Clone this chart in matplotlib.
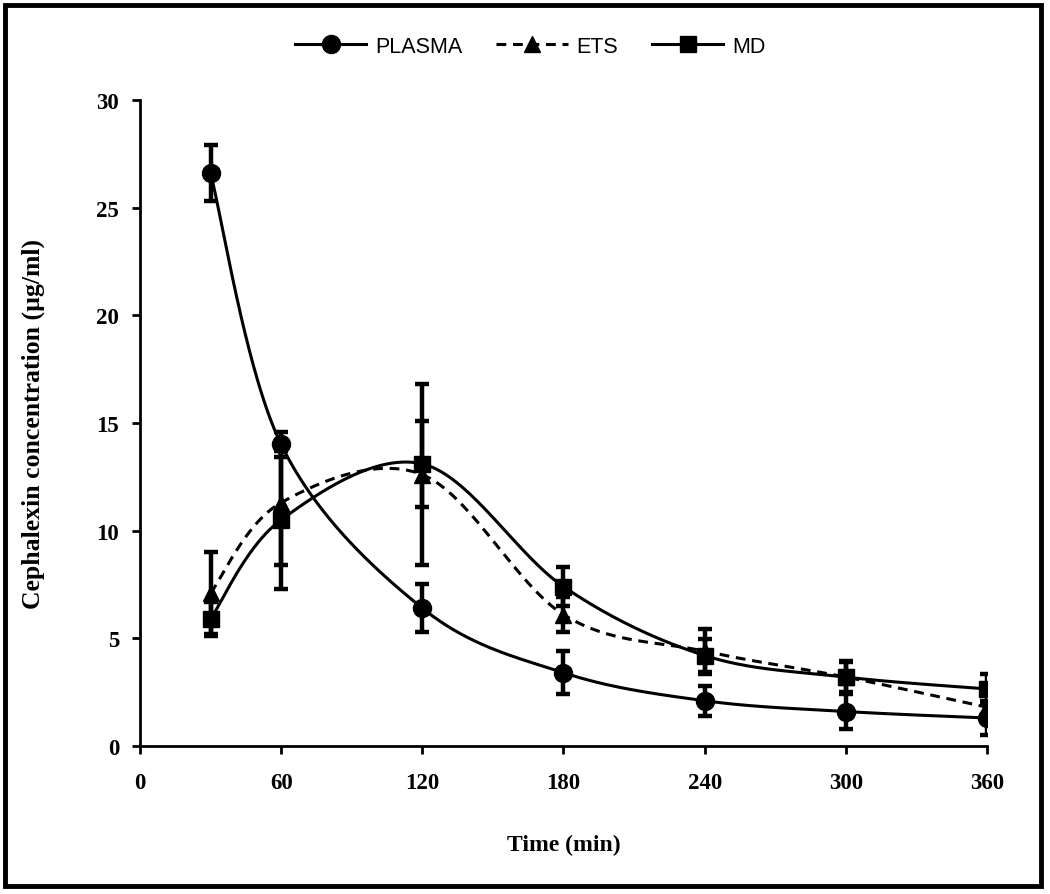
import numpy as np
import matplotlib
matplotlib.use("Agg")
import matplotlib.pyplot as plt
from matplotlib.patches import Rectangle

# ------------------------- data ------------------------- #
time = [30, 60, 120, 180, 240, 300, 360]

plasma = [26.6, 14.0, 6.4, 3.4, 2.1, 1.6, 1.3]
plasma_err = [1.3, 0.6, 1.1, 1.0, 0.7, 0.8, 0.8]

ets = [7.1, 11.3, 12.6, 6.1, 4.4, 3.2, 1.8]
ets_err = [1.9, 2.9, 4.2, 0.8, 1.05, 0.7, 0.6]

md = [5.9, 10.5, 13.1, 7.4, 4.2, 3.2, 2.65]
md_err = [0.8, 3.2, 2.0, 0.9, 0.75, 0.75, 0.7]

x_ticks = [0, 60, 120, 180, 240, 300, 360]
y_ticks = [0, 5, 10, 15, 20, 25, 30]


# Excel style smoothed line: cubic bezier with catmull-rom control points
def smooth(x, y, n=60):
    x = np.asarray(x, float)
    y = np.asarray(y, float)
    px = np.concatenate([[x[0]], x, [x[-1]]])
    py = np.concatenate([[y[0]], y, [y[-1]]])
    xs, ys = [], []
    s = np.linspace(0, 1, n)
    for i in range(len(x) - 1):
        p0 = np.array([px[i + 1], py[i + 1]])
        p3 = np.array([px[i + 2], py[i + 2]])
        c1 = p0 + (np.array([px[i + 2], py[i + 2]]) - np.array([px[i], py[i]])) / 6
        c2 = p3 - (np.array([px[i + 3], py[i + 3]]) - np.array([px[i + 1], py[i + 1]])) / 6
        b = ((1 - s) ** 3)[:, None] * p0 + (3 * (1 - s) ** 2 * s)[:, None] * c1 \
            + (3 * (1 - s) * s ** 2)[:, None] * c2 + (s ** 3)[:, None] * p3
        xs.extend(b[:, 0])
        ys.extend(b[:, 1])
    return np.array(xs), np.array(ys)


fig = plt.figure(figsize=(10.5, 8.95), dpi=100)
ax = fig.add_axes([0.1333, 0.1654, 0.8067, 0.7218])

series = [
    ("PLASMA", plasma, plasma_err, "o", "-", 13),
    ("ETS", ets, ets_err, "^", (0, (3.2, 2.2)), 12),
    ("MD", md, md_err, "s", "-", 12),
]

handles = []
for name, vals, errs, mk, ls, ms in series:
    sx, sy = smooth(time, vals)
    ax.plot(sx, sy, color="black", lw=2.2, ls=ls, zorder=2)
    ax.errorbar(time, vals, yerr=errs, fmt="none", ecolor="black",
                elinewidth=3.2, capsize=5, capthick=3.2, zorder=3)
    ax.plot(time, vals, ls="none", marker=mk, ms=ms, color="black", zorder=4)
    h, = ax.plot([], [], color="black", lw=2.2, ls=ls, marker=mk, ms=ms)
    handles.append(h)

ax.set_xlim(0, 360)
ax.set_ylim(0, 30)
ax.set_xticks(x_ticks)
ax.set_yticks(y_ticks)

for sp in ["top", "right"]:
    ax.spines[sp].set_visible(False)
for sp in ["left", "bottom"]:
    ax.spines[sp].set_linewidth(2)

ax.tick_params(axis="both", direction="out", length=6, width=2)
ax.tick_params(axis="x", pad=13)
ax.tick_params(axis="y", pad=9)
for lab in ax.get_xticklabels() + ax.get_yticklabels():
    lab.set_fontfamily("Liberation Serif")
    lab.set_fontweight("bold")
    lab.set_fontsize(16.5)

ax.set_xlabel("Time (min)", fontfamily="Liberation Serif", fontweight="bold",
              fontsize=17)
ax.set_ylabel("Cephalexin concentration (µg/ml)", fontfamily="Liberation Serif",
              fontweight="bold", fontsize=18.5)
ax.xaxis.set_label_coords(0.5, -0.136)
ax.yaxis.set_label_coords(-0.112, 0.5)

fig.legend(handles, [s[0] for s in series], loc="center", ncol=3,
           bbox_to_anchor=(0.505, 0.947), frameon=False,
           prop={"family": "Liberation Sans", "size": 15.5},
           handlelength=3.3, columnspacing=1.6, handletextpad=0.4)

# outer frame around the whole figure
fig.patches.append(Rectangle((0.005, 0.009), 0.986, 0.984, transform=fig.transFigure,
                             fill=False, edgecolor="black", lw=3.5))

fig.savefig("out.png", dpi=100)
